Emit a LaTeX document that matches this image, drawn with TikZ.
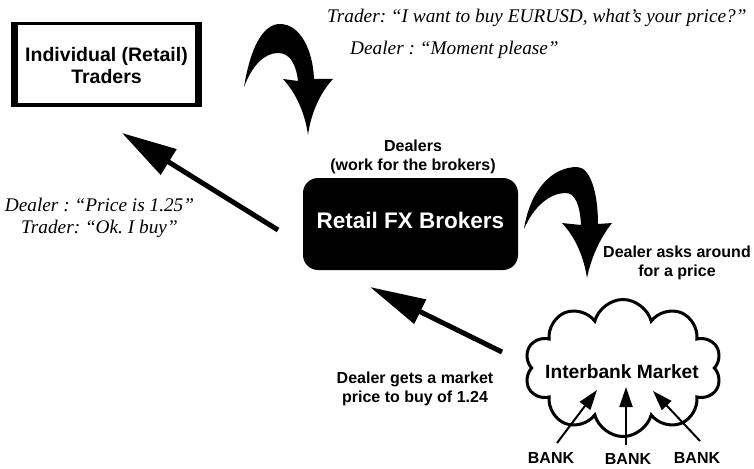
\documentclass[tikz,border=0pt]{standalone}
\usepackage{fontspec}
\setmainfont{Liberation Serif}
\setsansfont{Liberation Sans}
\usetikzlibrary{arrows.meta,shapes.symbols}
\tikzset{
  lab/.style={font=\sffamily\bfseries\fontsize{16}{19}\selectfont, align=center, inner sep=0pt},
  quote/.style={font=\frenchspacing\itshape\fontsize{19.3}{22}\selectfont, inner sep=0pt},
  bigarrow/.style={line width=5pt, -{Triangle[length=55pt,width=29pt]}},
  bankarrow/.style={line width=2pt, -{Triangle[length=20pt,width=13pt]}},
  curvearrow/.style={fill=black, draw=none},
  brokbox/.style={fill=black, rounded corners=15pt, minimum width=215pt, minimum height=92pt,
    inner sep=0pt, text=white, font=\sffamily\bfseries\fontsize{22.5}{26}\selectfont},
  cloudbox/.style={cloud, draw=black, line width=3pt, cloud puffs=10, aspect=1.5,
    minimum width=197pt, minimum height=137pt, inner sep=0pt},
}
\begin{document}
\begin{tikzpicture}[x=1pt,y=-1pt]
\useasboundingbox[fill=white] (0,0) rectangle (754,468);

% Individual traders box (thick side bars)
\fill[black] (11,22) rectangle (202,107);
\fill[white] (18,25.5) rectangle (195,103.5);
\node[lab, font=\sffamily\bfseries\fontsize{19.5}{22}\selectfont] (ind) at (106.5,66)
  {Individual (Retail)\\Traders};

% Retail FX brokers
\node[brokbox] (brok) at (410.5,224) {\raisebox{7pt}{Retail FX Brokers}};
\node[lab] (dl) at (413,156.5) {Dealers\\(work for the brokers)};

% Interbank cloud
\node[cloudbox] (ib) at (623,368) {};
\node[lab, font=\sffamily\bfseries\fontsize{19.2}{22}\selectfont] (ibt) at (622,372) {Interbank Market};

% Banks
\node[lab] (b1) at (551,457.5) {BANK};
\node[lab] (b2) at (628,459) {BANK};
\node[lab] (b3) at (697,457.5) {BANK};

% Labels
\node[lab] (ask) at (677,263) {Dealer asks around\\for a price};
\node[lab] (get) at (415,389) {Dealer gets a market\\price to buy of 1.24};
\node[quote, align=center] (q2) at (99.5,217.5) {Dealer : “Price is 1.25”\\Trader: “Ok. I buy”};
\node[quote, align=left, anchor=west, font=\frenchspacing\itshape\fontsize{19.3}{32}\selectfont] (q1) at (327,34)
  {Trader: “I want to buy EURUSD, what’s your price?”\\\hspace*{23pt}Dealer : “Moment please”};

% Straight arrows
\coordinate (s1) at (278,230);
\coordinate (e1) at (122,133);
\draw[bigarrow] (s1) -- (e1);
\coordinate (s2) at (502,352);
\coordinate (e2) at (370,287);
\draw[bigarrow, -{Triangle[length=56pt,width=26pt]}] (s2) -- (e2);

% Bank arrows
\coordinate (t1) at (557,443); \coordinate (h1) at (597,390);
\coordinate (t2) at (626,445); \coordinate (h2) at (626,387);
\coordinate (t3) at (700,441); \coordinate (h3) at (653,391);
\draw[bankarrow] (t1) -- (h1);
\draw[bankarrow] (t2) -- (h2);
\draw[bankarrow] (t3) -- (h3);

% Curved arrows
\fill[curvearrow] (244,87) .. controls (250,50) and (262,24) .. (280,24)
  .. controls (300,24) and (313,50) .. (314,79) -- (333,79)
  .. controls (320,93) and (311,113) .. (308,135)
  .. controls (305,113) and (296,93) .. (283,79) -- (298,81)
  .. controls (296,64) and (290,53) .. (278,53)
  .. controls (264,53) and (252,66) .. (244,87) -- cycle;
\fill[curvearrow] (524,229) .. controls (530,190) and (552,167) .. (577,167)
  .. controls (590,167) and (598,192) .. (598,224) -- (612,223)
  .. controls (600,238) and (591,258) .. (587,278)
  .. controls (584,258) and (576,238) .. (562,223) -- (581,225)
  .. controls (580,205) and (575,193) .. (566,193)
  .. controls (550,193) and (534,206) .. (524,229) -- cycle;
\end{tikzpicture}
\end{document}
